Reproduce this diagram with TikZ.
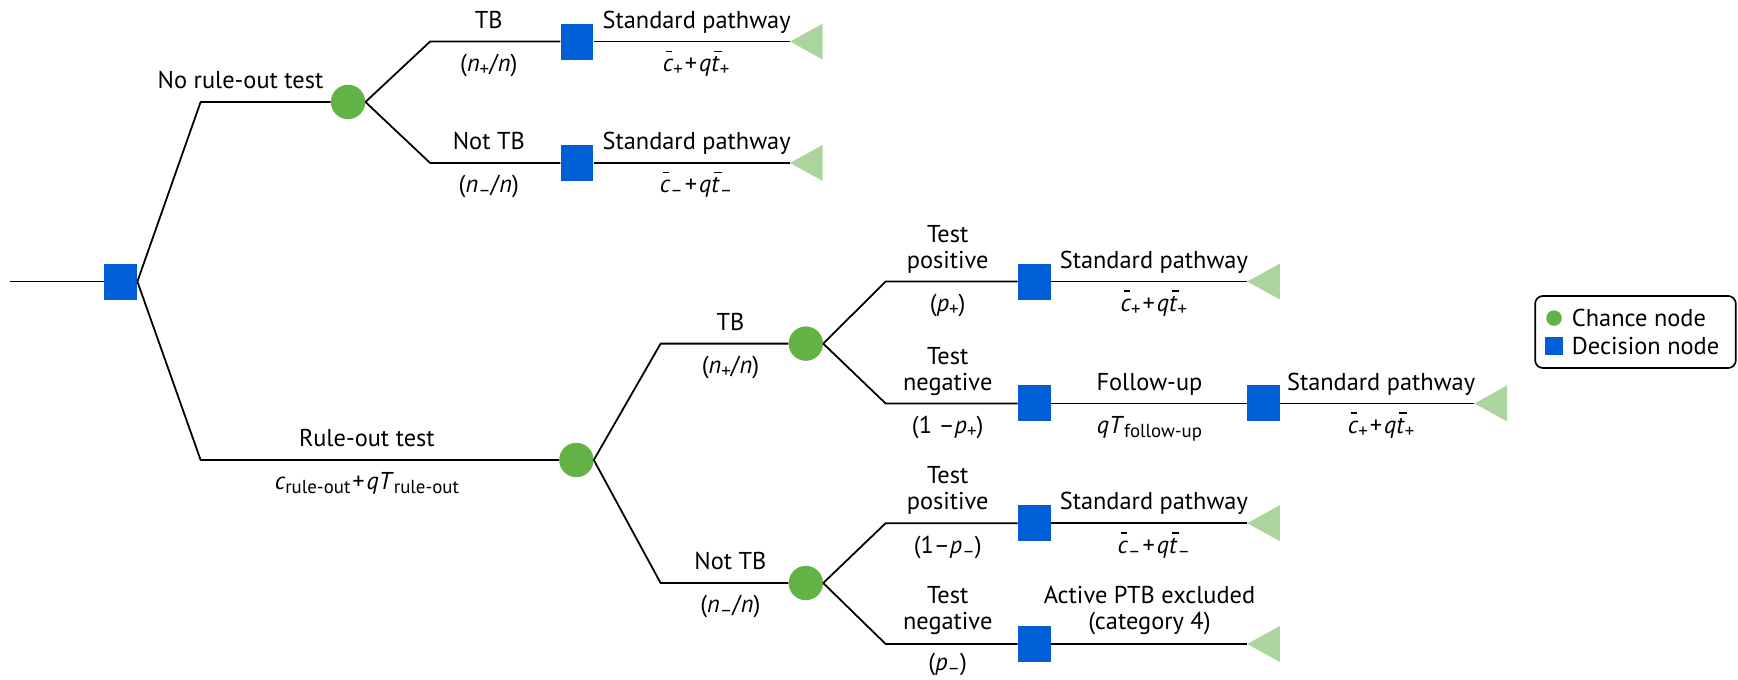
\documentclass[tikz,border=0pt]{standalone}
\usepackage{fontspec}
\setmainfont{PT Sans}
\definecolor{dblue}{RGB}{0,94,214}
\definecolor{cgreen}{RGB}{98,178,70}
\definecolor{tgreen}{RGB}{172,213,158}
\newcommand{\vi}[1]{\textit{#1}}
\newcommand{\mysub}[1]{\raisebox{-0.16em}{\fontsize{17}{18}\selectfont #1}}
\newcommand{\mybar}[3]{\leavevmode\rlap{\hspace{#1}\rule[0.8em]{#2}{0.06em}}\textit{#3}}
\newcommand{\pl}{\kern0.08em+\kern0.08em}
\tikzset{
  decision/.style={rectangle, fill=dblue, minimum width=29.5pt, minimum height=32.5pt, inner sep=0pt},
  chance/.style={circle, fill=cgreen, minimum size=31pt, inner sep=0pt},
  terminal/.style={rectangle, minimum width=29.5pt, minimum height=32.5pt, inner sep=0pt,
    path picture={\fill[tgreen] (path picture bounding box.west) -- (path picture bounding box.north east) -- (path picture bounding box.south east) -- cycle;}},
  lbl/.style={inner sep=0pt, anchor=base, align=center, font=\fontsize{22}{23.5}\selectfont},
  edge/.style={line width=1.6pt, line join=miter},
  ldot/.style={circle, fill=cgreen, minimum size=14pt, inner sep=0pt},
  lsq/.style={rectangle, fill=dblue, minimum size=16pt, inner sep=0pt},
}
\begin{document}
\begin{tikzpicture}[x=1pt,y=-1pt]
\useasboundingbox (0,0) rectangle (1568,613);
% nodes
\coordinate (start) at (9,254);
\node[decision] (d0) at (109,254) {};
\coordinate (ka) at (181,92);
\node[chance] (ca) at (314,92) {};
\coordinate (ka1) at (388,37.5);
\node[decision] (da1) at (520.5,37.5) {};
\node[terminal] (ta1) at (727.5,37.5) {};
\coordinate (ka2) at (388,147);
\node[decision] (da2) at (520.5,147) {};
\node[terminal] (ta2) at (727.5,147) {};
\coordinate (kb) at (181,415);
\node[chance] (cb) at (520,415) {};
\coordinate (kb1) at (596,310);
\node[chance] (cb1) at (727,310) {};
\coordinate (kb2) at (596,526);
\node[chance] (cb2) at (727,526) {};
\coordinate (kb11) at (799,254);
\node[decision] (db11) at (933,254) {};
\node[terminal] (tb11) at (1140,254) {};
\coordinate (kb12) at (799,364);
\node[decision] (db12) at (933,364) {};
\node[decision] (db12b) at (1140,364) {};
\node[terminal] (tb12) at (1345,364) {};
\coordinate (kb21) at (799,472);
\node[decision] (db21) at (933,472) {};
\node[terminal] (tb21) at (1140,472) {};
\coordinate (kb22) at (799,581);
\node[decision] (db22) at (933,581) {};
\node[terminal] (tb22) at (1140,581) {};
% connectors
\draw[edge] (start) -- (d0.west);
\draw[edge] (d0.east) -- (ka) -- (ca.west);
\draw[edge] (ca.east) -- (ka1) -- (da1.west);
\draw[edge] (da1.east) -- (ta1.west);
\draw[edge] (ca.east) -- (ka2) -- (da2.west);
\draw[edge] (da2.east) -- (ta2.west);
\draw[edge] (d0.east) -- (kb) -- (cb.west);
\draw[edge] (cb.east) -- (kb1) -- (cb1.west);
\draw[edge] (cb.east) -- (kb2) -- (cb2.west);
\draw[edge] (cb1.east) -- (kb11) -- (db11.west);
\draw[edge] (db11.east) -- (tb11.west);
\draw[edge] (cb1.east) -- (kb12) -- (db12.west);
\draw[edge] (db12.east) -- (db12b.west);
\draw[edge] (db12b.east) -- (tb12.west);
\draw[edge] (cb2.east) -- (kb21) -- (db21.west);
\draw[edge] (db21.east) -- (tb21.west);
\draw[edge] (cb2.east) -- (kb22) -- (db22.west);
\draw[edge] (db22.east) -- (tb22.west);
% labels
\node[lbl] (l1) at (217,80) {No rule-out test};
\node[lbl] (l2) at (441,25.5) {TB};
\node[lbl] (l3) at (441,64.5) {(\vi{n}\mysub{+}/\vi{n})};
\node[lbl] (l4) at (628.5,25.5) {Standard pathway};
\node[lbl] (l5) at (628,64.5) {\mybar{0.13em}{0.26em}{c}\mysub{+}\pl\vi{q}\mybar{0.1em}{0.32em}{t}\mysub{+}};
\node[lbl] (l6) at (441,135) {Not TB};
\node[lbl] (l7) at (441,174) {(\vi{n}\mysub{–}/\vi{n})};
\node[lbl] (l8) at (628.5,135) {Standard pathway};
\node[lbl] (l9) at (628,174) {\mybar{0.13em}{0.26em}{c}\mysub{–}\pl\vi{q}\mybar{0.1em}{0.32em}{t}\mysub{–}};
\node[lbl] (l10) at (331,403) {Rule-out test};
\node[lbl] (l11) at (331,442) {\vi{c}\mysub{rule-out}\pl\vi{qT}\mysub{rule-out}};
\node[lbl] (l12) at (659,298) {TB};
\node[lbl] (l13) at (659,337) {(\vi{n}\mysub{+}/\vi{n})};
\node[lbl] (l14) at (659,514) {Not TB};
\node[lbl] (l15) at (659,553) {(\vi{n}\mysub{–}/\vi{n})};
\node[lbl] (l16) at (855,242) {Test\\positive};
\node[lbl] (l17) at (855,281) {(\vi{p}\mysub{+})};
\node[lbl] (l18) at (1041,242) {Standard pathway};
\node[lbl] (l19) at (1041,281) {\mybar{0.13em}{0.26em}{c}\mysub{+}\pl\vi{q}\mybar{0.1em}{0.32em}{t}\mysub{+}};
\node[lbl] (l20) at (855,352) {Test\\negative};
\node[lbl] (l21) at (855,391) {(1 –\vi{p}\mysub{+})};
\node[lbl] (l22) at (1037,352) {Follow-up};
\node[lbl] (l23) at (1037,391) {\vi{qT}\mysub{follow-up}};
\node[lbl] (l24) at (1246,352) {Standard pathway};
\node[lbl] (l25) at (1246,391) {\mybar{0.13em}{0.26em}{c}\mysub{+}\pl\vi{q}\mybar{0.1em}{0.32em}{t}\mysub{+}};
\node[lbl] (l26) at (855,460) {Test\\positive};
\node[lbl] (l27) at (855,499) {(1–\vi{p}\mysub{–})};
\node[lbl] (l28) at (1041,460) {Standard pathway};
\node[lbl] (l29) at (1041,499) {\mybar{0.13em}{0.26em}{c}\mysub{–}\pl\vi{q}\mybar{0.1em}{0.32em}{t}\mysub{–}};
\node[lbl] (l30) at (855,568) {Test\\negative};
\node[lbl] (l31) at (855,605) {(\vi{p}\mysub{–})};
\node[lbl] (l32) at (1037,568) {Active PTB excluded\\(category 4)};
% legend
\node[draw, line width=1.5pt, rounded corners=7pt, minimum width=181pt, minimum height=65pt, inner sep=0pt] (leg) at (1475.5,299.5) {};
\node[ldot] (lc) at (1402,287) {};
\node[lsq] (ls) at (1402,312) {};
\node[lbl, anchor=west] (lct) at (1418,287) {Chance node};
\node[lbl, anchor=west] (lst) at (1418,312) {Decision node};
\end{tikzpicture}
\end{document}
